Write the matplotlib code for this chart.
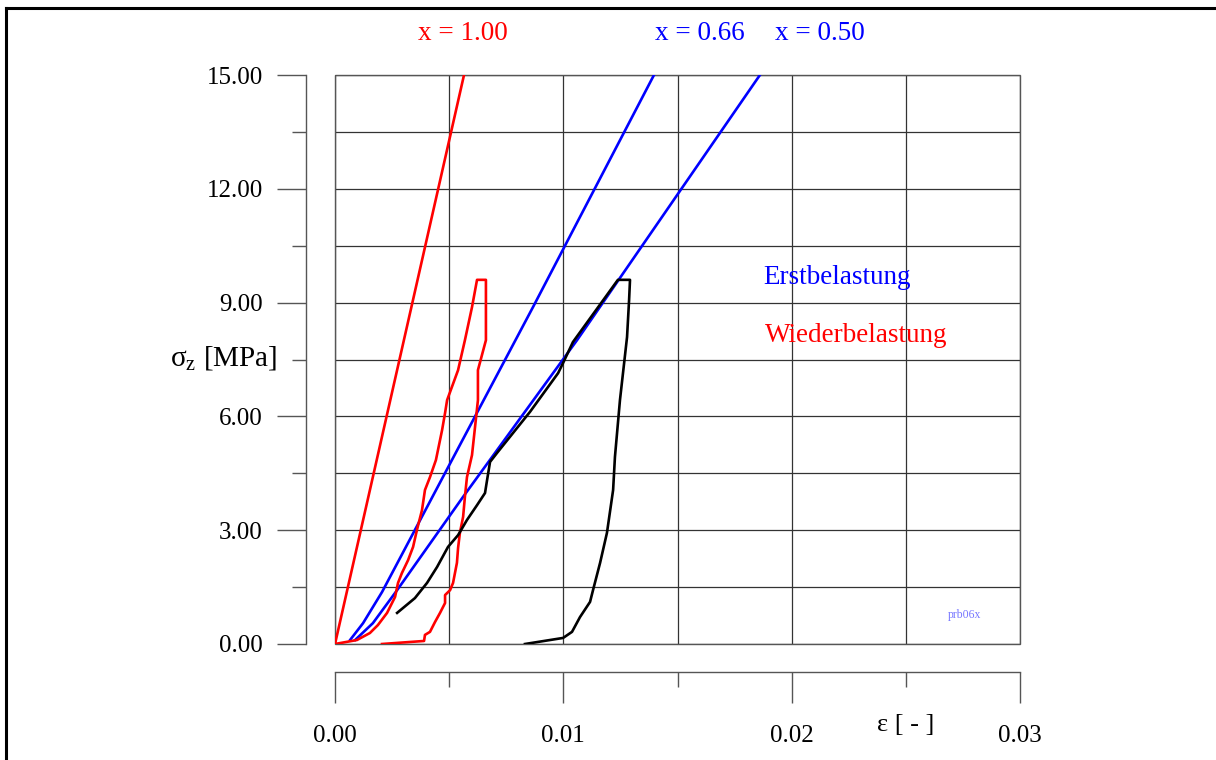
import matplotlib
matplotlib.use("Agg")
import matplotlib.pyplot as plt
from matplotlib.lines import Line2D
from matplotlib.patches import Rectangle
from matplotlib.ticker import MultipleLocator, FormatStrFormatter

plt.rcParams['font.family'] = ['Liberation Serif', 'DejaVu Serif']

# Erstbelastung, x = 1.00
eps_x100 = [0.0, 0.00565]
sig_x100 = [0.0, 15.0]

# Erstbelastung, x = 0.66
eps_x066 = [0.00066, 0.00123, 0.00206, 0.00535, 0.00867, 0.01397]
sig_x066 = [0.105, 0.55, 1.37, 5.11, 8.88, 15.0]

# Erstbelastung, x = 0.50
eps_x050 = [0.00088, 0.00166, 0.00272, 0.00561, 0.0106, 0.01861]
sig_x050 = [0.105, 0.55, 1.42, 3.88, 8.01, 15.0]

# Wiederbelastung (red loop)
eps_red = [0.0, 0.00096, 0.00153, 0.00188, 0.00228, 0.00263, 0.00276, 0.00293,
           0.0032, 0.00342, 0.00359, 0.00381, 0.00394, 0.00416, 0.00442, 0.00469,
           0.00482, 0.00491, 0.00539, 0.00569, 0.0060, 0.00622, 0.00661, 0.00661,
           0.00626, 0.00626, 0.0060, 0.00578, 0.00569, 0.00561, 0.00547, 0.00539,
           0.00534, 0.00517, 0.00504, 0.00482, 0.00482, 0.0046, 0.00438, 0.00416,
           0.00394, 0.0039, 0.00206]
sig_red = [0.0, 0.105, 0.29, 0.50, 0.82, 1.24, 1.61, 1.87,
           2.21, 2.56, 3.01, 3.53, 4.06, 4.40, 4.85, 5.64,
           6.09, 6.43, 7.22, 8.01, 8.88, 9.60, 9.60, 8.01,
           7.22, 6.43, 4.98, 4.40, 3.88, 3.35, 2.93, 2.53,
           2.14, 1.61, 1.42, 1.29, 1.08, 0.82, 0.58, 0.32,
           0.24, 0.08, 0.0]

# black loop
eps_blk = [0.00272, 0.0035, 0.00403, 0.00447, 0.00495, 0.00539, 0.00578, 0.00622,
           0.00657, 0.00666, 0.00679, 0.0071, 0.00854, 0.00977, 0.00999, 0.01042,
           0.01239, 0.01292, 0.01288, 0.01279, 0.01248, 0.01226, 0.01218, 0.01191,
           0.01161, 0.0113, 0.01117, 0.01073, 0.01038, 0.00999, 0.00832]
sig_blk = [0.82, 1.21, 1.61, 2.03, 2.56, 2.87, 3.27, 3.66,
           3.98, 4.32, 4.80, 5.04, 6.12, 7.14, 7.41, 7.96,
           9.60, 9.60, 9.07, 8.09, 6.43, 4.93, 4.06, 2.93,
           2.14, 1.42, 1.11, 0.71, 0.32, 0.16, 0.0]

W, H = 1216, 760
fig = plt.figure(figsize=(W / 100, H / 100), dpi=100)
ax = fig.add_axes([335 / W, 116 / H, 685 / W, 569 / H])

lw = 1.9
ax.plot(eps_x100, sig_x100, color='#ff0000', lw=lw, zorder=3)
ax.plot(eps_x066, sig_x066, color='#0000ff', lw=lw, zorder=3)
ax.plot(eps_x050, sig_x050, color='#0000ff', lw=lw, zorder=3)
ax.plot(eps_red, sig_red, color='#ff0000', lw=lw, zorder=3)
ax.plot(eps_blk, sig_blk, color='#000000', lw=lw, zorder=3)

ax.set_xlim(0, 0.03)
ax.set_ylim(0, 15)

ax.xaxis.set_major_locator(MultipleLocator(0.01))
ax.xaxis.set_minor_locator(MultipleLocator(0.005))
ax.yaxis.set_major_locator(MultipleLocator(3))
ax.yaxis.set_minor_locator(MultipleLocator(1.5))
ax.xaxis.set_major_formatter(FormatStrFormatter('%.2f'))
ax.yaxis.set_major_formatter(FormatStrFormatter('%.2f'))

ax.grid(which='both', color='#333333', lw=0.9, zorder=1)
ax.add_patch(Rectangle((0, 0), 1, 1, transform=ax.transAxes, fill=False,
                       ec='#555555', lw=1.0, clip_on=False, zorder=2))

for s in ['top', 'right']:
    ax.spines[s].set_visible(False)
ax.spines['left'].set_position(('outward', 21))
ax.spines['bottom'].set_position(('outward', 20))
for s in ['left', 'bottom']:
    ax.spines[s].set_color('#555555')
    ax.spines[s].set_linewidth(1.0)

ax.tick_params(axis='y', which='major', length=21, width=1.0, color='#555555',
               pad=10, labelsize=18)
ax.tick_params(axis='y', which='minor', length=10, width=1.0, color='#555555')
ax.tick_params(axis='x', which='major', length=22, width=1.0, color='#555555',
               pad=16, labelsize=18)
ax.tick_params(axis='x', which='minor', length=11, width=1.0, color='#555555')

fig.text(224 / W, 1 - 359 / H, 'σ$_{\\mathregular{z}}$ [MPa]', fontsize=21,
         ha='center', va='center')
fig.text(906 / W, 1 - 725 / H, 'ε [ - ]', fontsize=19, ha='center', va='center')

fig.text(463 / W, 1 - 33 / H, 'x = 1.00', fontsize=19.5, color='#ff0000',
         ha='center', va='center')
fig.text(700 / W, 1 - 33 / H, 'x = 0.66', fontsize=19.5, color='#0000ff',
         ha='center', va='center')
fig.text(820 / W, 1 - 33 / H, 'x = 0.50', fontsize=19.5, color='#0000ff',
         ha='center', va='center')

fig.text(763 / W, 1 - 277 / H, 'Erstbelastung', fontsize=19.5, color='#0000ff',
         ha='left', va='center')
fig.text(765 / W, 1 - 335 / H, 'Wiederbelastung', fontsize=19.5, color='#ff0000',
         ha='left', va='center')
fig.text(965 / W, 1 - 615 / H, 'prb06x', fontsize=8.5, color='#7777ff',
         ha='center', va='center')

# outer frame (cut off at right and bottom)
fig.add_artist(Line2D([6 / W, 6 / W], [0, 1 - 8 / H], color='black', lw=2.2))
fig.add_artist(Line2D([6 / W, 1], [1 - 8 / H, 1 - 8 / H], color='black', lw=2.2))

fig.savefig('out.png', dpi=100)
